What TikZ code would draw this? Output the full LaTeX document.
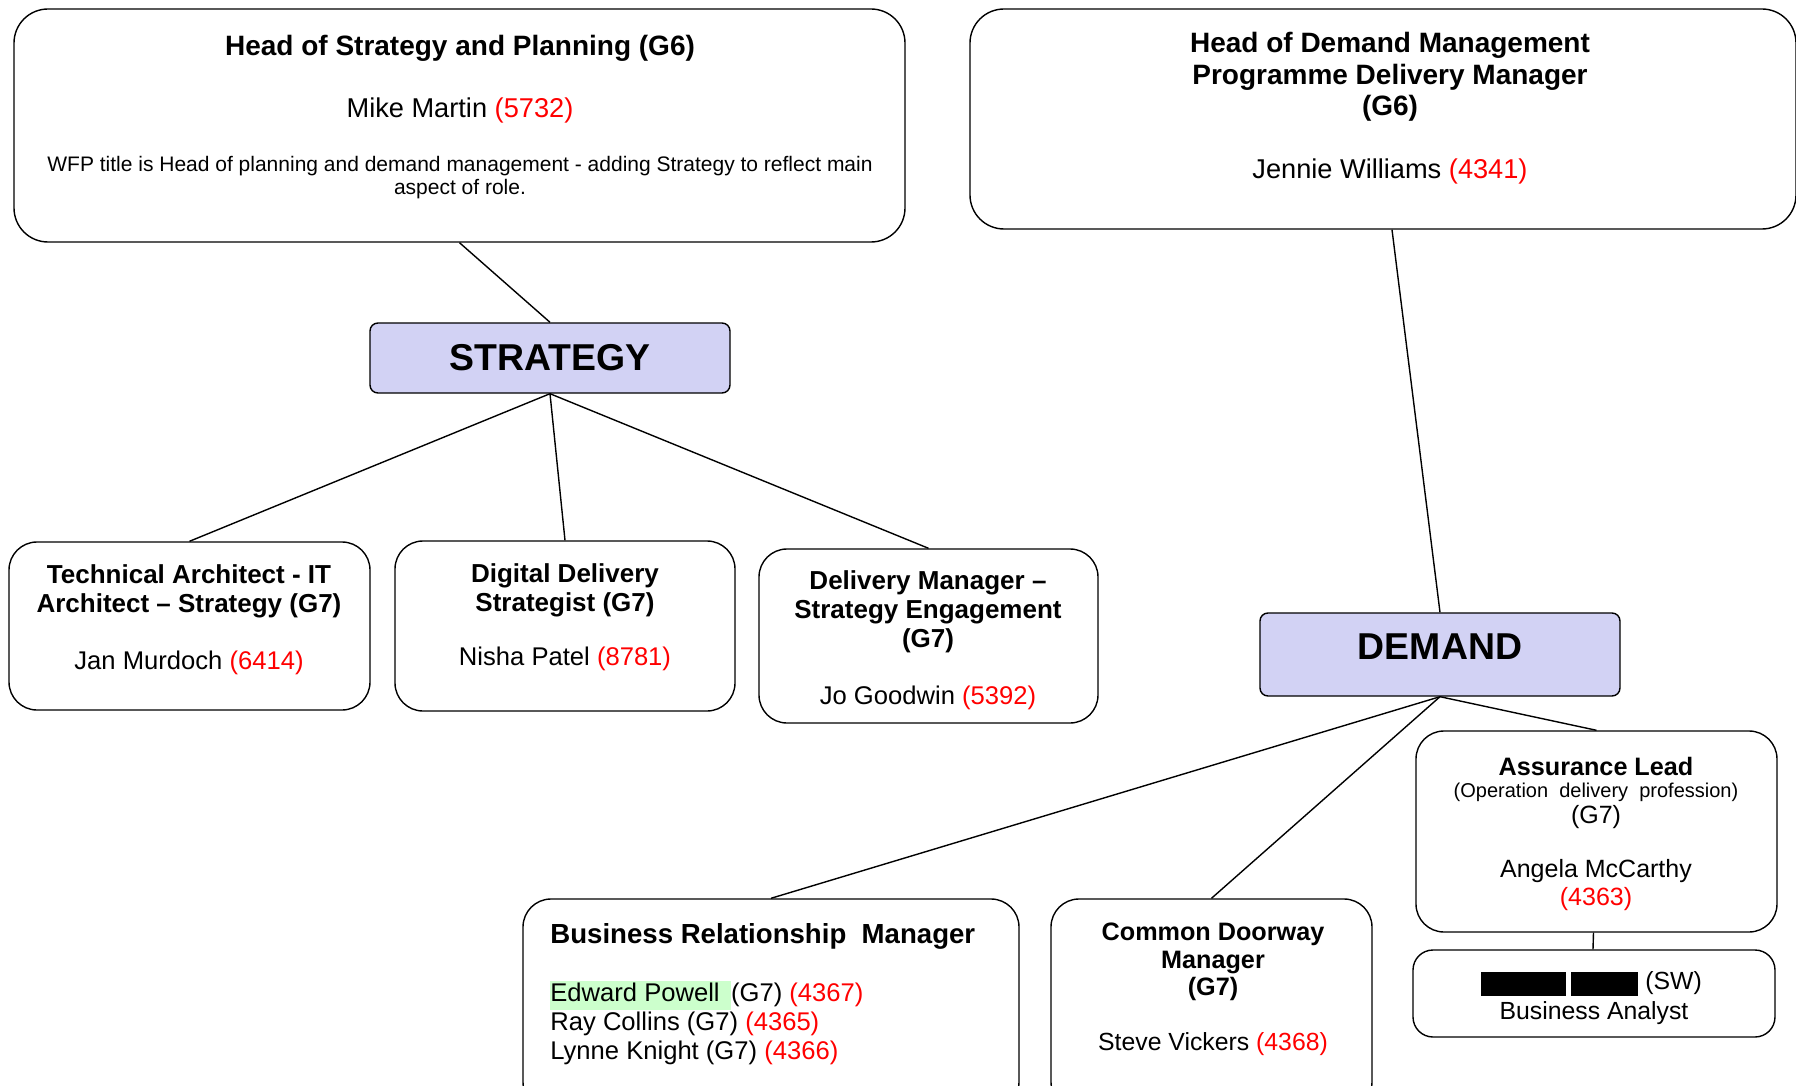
\documentclass[tikz,border=0pt]{standalone}
\usepackage{fontspec}
\setmainfont{Liberation Sans}
\definecolor{idred}{RGB}{255,0,0}
\definecolor{lav}{RGB}{210,210,244}
\definecolor{hlgreen}{RGB}{204,255,204}
\newcommand\redtxt[1]{\textcolor{idred}{#1}}
\tikzset{
 obox/.style={draw, line width=0.7pt, rounded corners=14pt, fill=white, inner sep=0pt},
 headbox/.style={obox, rounded corners=17pt},
 babox/.style={obox, rounded corners=10pt},
 teambox/.style={draw, line width=0.7pt, rounded corners=4pt, fill=lav, inner sep=0pt},
 txt/.style={inner sep=0pt, align=center},
 conn/.style={line width=0.7pt},
 headtitle/.style={txt, font=\fontsize{14}{15.75}\selectfont\bfseries},
 headname/.style={txt, font=\fontsize{13.6}{15.5}\selectfont},
 gtitle/.style={txt, font=\fontsize{13}{14.6}\selectfont\bfseries},
 gname/.style={txt, font=\fontsize{12.8}{14.5}\selectfont},
 bigtitle/.style={txt, font=\fontsize{18.7}{21}\selectfont\bfseries},
}
\begin{document}
\begin{tikzpicture}[x=0.5pt,y=-0.5pt]
\useasboundingbox (0,0) rectangle (1796,1086);
\clip (0,0) rectangle (1796,1086);

% boxes
\node[headbox, minimum width=445.5pt, minimum height=116.5pt] (hs) at (459.5,125.5) {};
\node[headbox, minimum width=413pt, minimum height=110pt] (hd) at (1383,119) {};
\node[teambox, minimum width=180pt, minimum height=35pt] (strat) at (550,358) {};
\node[teambox, minimum width=180pt, minimum height=41.5pt] (dem) at (1440,654.5) {};
\node[obox, minimum width=180.5pt, minimum height=84pt] (ta) at (189.5,626) {};
\node[obox, minimum width=170pt, minimum height=85pt] (dd) at (565,626) {};
\node[obox, minimum width=169.5pt, minimum height=87pt] (dm) at (928.5,636) {};
\node[obox, minimum width=248pt, minimum height=105.5pt] (brm) at (771,1004.5) {};
\node[obox, minimum width=160.5pt, minimum height=105.5pt] (cd) at (1211.5,1004.5) {};
\node[obox, minimum width=180.5pt, minimum height=100.5pt] (al) at (1596.5,831.5) {};
\node[babox, minimum width=181pt, minimum height=43.5pt] (ba) at (1594,993.5) {};

% connectors
\draw[conn] (hs.south) -- (strat.north);
\draw[conn] (strat.south) -- (ta.north);
\draw[conn] (strat.south) -- (dd.north);
\draw[conn] (strat.south) -- (dm.north);
\draw[conn] ([xshift=4.5pt]hd.south) -- (dem.north);
\draw[conn] (dem.south) -- (brm.north);
\draw[conn] (dem.south) -- (cd.north);
\draw[conn] (dem.south) -- (al.north);
\draw[conn] ([xshift=-1.5pt]al.south) -- ([xshift=-0.5pt]ba.north);

% head of strategy
\node[headtitle] (hs1) at (460,48) {Head of Strategy and Planning (G6)};
\node[headname] (hs2) at (460,110) {Mike Martin \redtxt{(5732)}};
\node[txt, font=\fontsize{10.5}{11.5}\selectfont] (hs3) at (460,178) {WFP title is Head of planning and demand management - adding Strategy to reflect main\\aspect of role.};

% head of demand
\node[headtitle] (hd1) at (1390,77) {Head of Demand Management\\Programme Delivery Manager\\(G6)};
\node[headname] (hd2) at (1390,171) {Jennie Williams \redtxt{(4341)}};

% team labels
\node[bigtitle] (strat1) at (550,358) {STRATEGY};
\node[bigtitle] (dem1) at (1440,647) {DEMAND};

% strategy team
\node[gtitle] (ta1) at (189,591) {Technical Architect - IT\\Architect -- Strategy (G7)};
\node[gname] (ta2) at (189,663) {Jan Murdoch \redtxt{(6414)}};
\node[gtitle] (dd1) at (565,590) {Digital Delivery\\Strategist (G7)};
\node[gname] (dd2) at (565,659) {Nisha Patel \redtxt{(8781)}};
\node[gtitle] (dm1) at (928,612) {Delivery Manager --\\Strategy Engagement\\(G7)};
\node[gname] (dm2) at (928,698) {Jo Goodwin \redtxt{(5392)}};

% demand team
\node[txt, anchor=west, font=\fontsize{13.8}{15.5}\selectfont\bfseries] (brm1) at (550,936) {Business Relationship\ \ Manager};
\node[txt, anchor=west, align=left, font=\fontsize{12.8}{14.5}\selectfont] (brm2) at (550,1023)
 {{\setlength\fboxsep{0pt}\colorbox{hlgreen}{\strut Edward Powell\ \,}}(G7) \redtxt{(4367)}\\Ray Collins (G7) \redtxt{(4365)}\\Lynne Knight (G7) \redtxt{(4366)}};
\node[txt, font=\fontsize{12.6}{13.75}\selectfont\bfseries] (cd1) at (1213,962) {Common Doorway\\Manager\\(G7)};
\node[txt, font=\fontsize{12.4}{14}\selectfont] (cd2) at (1213,1044) {Steve Vickers \redtxt{(4368)}};

\node[txt, font=\fontsize{12.6}{14}\selectfont\bfseries] (al1) at (1596,766) {Assurance Lead};
\node[txt, font=\fontsize{10}{11}\selectfont] (al2) at (1596,792) {(Operation\ \ delivery\ \ profession)};
\node[txt, font=\fontsize{12.5}{14}\selectfont] (al3) at (1596,817) {(G7)};
\node[txt, font=\fontsize{12.5}{14}\selectfont] (al4) at (1596,885) {Angela McCarthy\\\redtxt{(4363)}};

\fill[black] (1481,972) rectangle (1566,996);
\fill[black] (1571,972) rectangle (1638,996);
\node[txt, anchor=west, font=\fontsize{12.4}{14}\selectfont] (ba1) at (1645,983) {(SW)};
\node[txt, font=\fontsize{12.4}{14}\selectfont] (ba2) at (1594,1013) {Business Analyst};
\end{tikzpicture}
\end{document}
